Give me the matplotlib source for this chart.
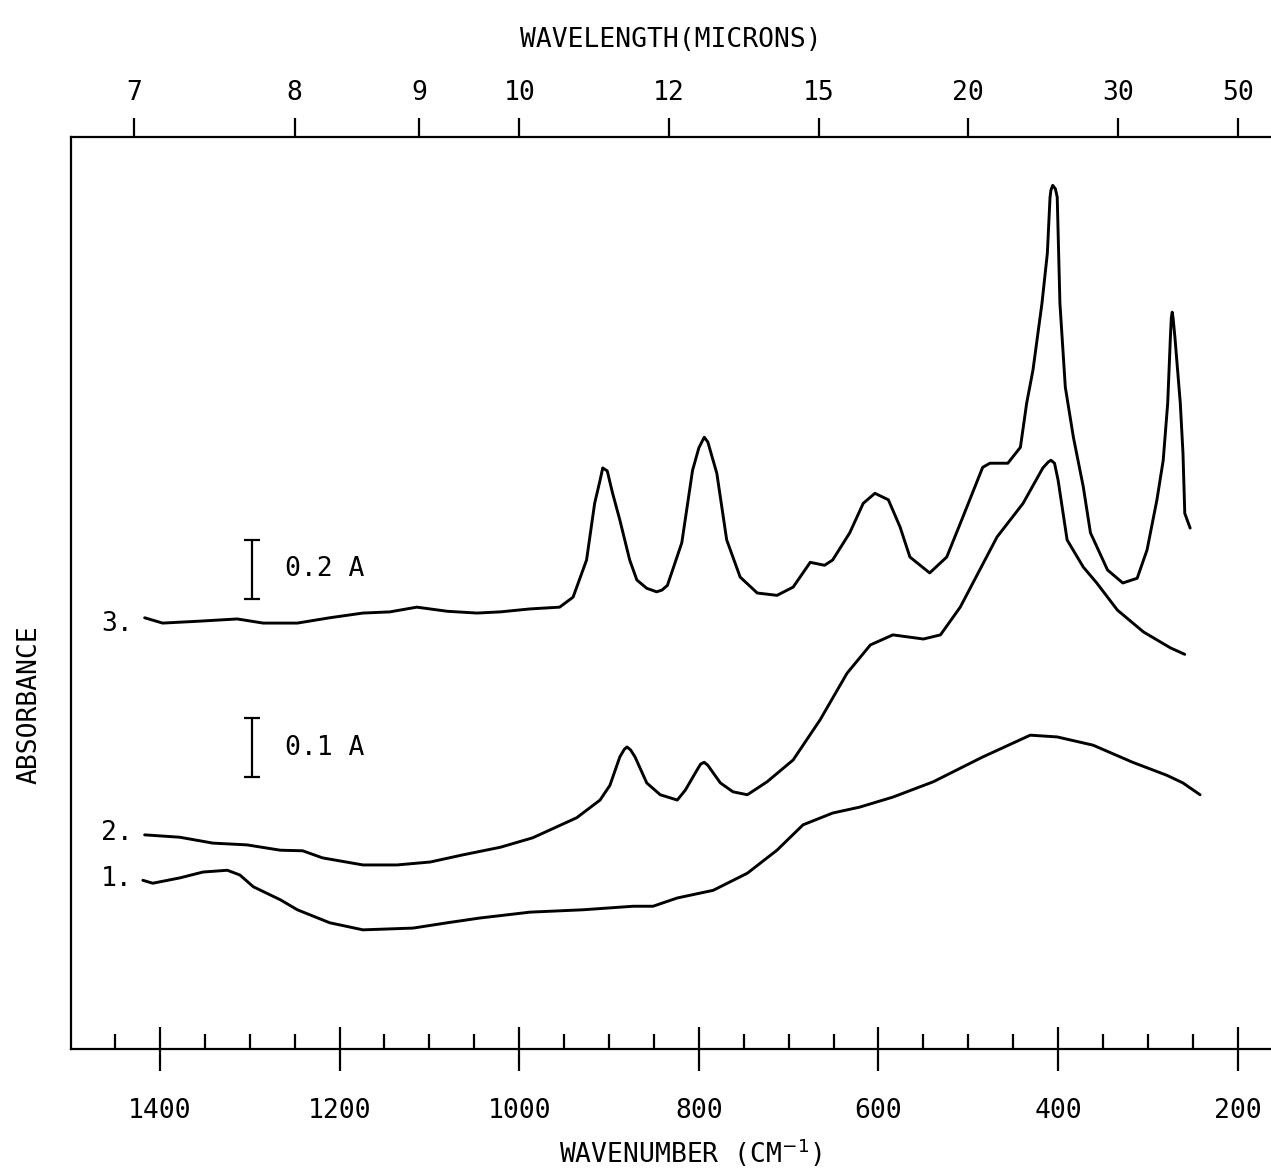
import matplotlib
matplotlib.use("Agg")
import matplotlib.pyplot as plt
from matplotlib.ticker import MultipleLocator, FixedLocator, FuncFormatter
import numpy as np

plt.rcParams['font.family'] = ['DejaVu Sans Mono', 'DejaVu Sans']

# ---------------- data (wavenumber cm^-1, relative absorbance) ----------------
wn3 = [1417, 1397, 1359, 1314, 1285, 1247, 1211, 1174, 1144, 1114, 1080, 1047,
       1021, 988, 955, 940, 925, 916, 910, 907, 902, 896, 888, 877, 869, 858, 847, 841, 835, 819,
       807, 800, 794, 790, 780, 769, 754, 735, 713, 695, 676, 660, 651, 632, 617, 604,
       589, 576, 565, 543, 524, 506, 484, 476, 456, 442, 435, 428, 418, 412,
       409, 408, 406, 403, 401, 398, 392, 383, 372, 364, 345, 328, 312, 301, 290, 283,
       278, 275, 274, 273, 272, 270, 264, 261, 259, 253]
ab3 = [0.731, 0.722, 0.725, 0.729, 0.722, 0.722, 0.731, 0.739, 0.741, 0.749, 0.742, 0.739,
       0.741, 0.746, 0.749, 0.766, 0.829, 0.925, 0.964, 0.985, 0.980, 0.942, 0.897, 0.829, 0.795, 0.781, 0.775, 0.778, 0.786, 0.858,
       0.981, 1.019, 1.037, 1.029, 0.976, 0.863, 0.800, 0.773, 0.769, 0.783, 0.825, 0.820, 0.829, 0.875, 0.925, 0.942,
       0.931, 0.885, 0.834, 0.807, 0.834, 0.902, 0.986, 0.993, 0.993, 1.020, 1.095, 1.151, 1.264, 1.349,
       1.444, 1.456, 1.464, 1.458, 1.444, 1.264, 1.122, 1.037, 0.953, 0.875, 0.812, 0.790, 0.798, 0.846, 0.931, 0.998,
       1.095, 1.207, 1.239, 1.249, 1.239, 1.207, 1.095, 1.010, 0.908, 0.883]

wn2 = [1417, 1378, 1341, 1303, 1266, 1241, 1219, 1174, 1136, 1099, 1063, 1021,
       985, 936, 910, 899, 888, 883, 880, 876, 871, 858, 843, 824, 815, 802, 798, 794, 790, 784,
       776, 762, 746, 724, 695, 665, 635, 609, 584, 550, 531, 509, 468, 439,
       417, 411, 408, 404, 400, 390, 372, 357, 334, 305, 275, 259]
ab2 = [0.363, 0.359, 0.349, 0.346, 0.337, 0.336, 0.324, 0.312, 0.312, 0.317, 0.329, 0.342,
       0.358, 0.392, 0.422, 0.447, 0.495, 0.508, 0.512, 0.507, 0.495, 0.451, 0.431, 0.422, 0.439, 0.473, 0.483, 0.486, 0.481, 0.468,
       0.451, 0.436, 0.431, 0.453, 0.490, 0.558, 0.637, 0.685, 0.702, 0.695, 0.702, 0.749, 0.868, 0.925,
       0.985, 0.995, 0.998, 0.993, 0.964, 0.863, 0.817, 0.790, 0.744, 0.707, 0.680, 0.669]

wn1 = [1419, 1408, 1378, 1352, 1325, 1311, 1296, 1266, 1247, 1211, 1174, 1155,
       1118, 1080, 1044, 988, 929, 873, 851, 824, 784, 746, 713, 684, 651,
       621, 584, 539, 484, 431, 401, 361, 317, 279, 261, 242]
ab1 = [0.286, 0.281, 0.290, 0.300, 0.303, 0.295, 0.275, 0.253, 0.236, 0.214, 0.202, 0.203,
       0.205, 0.214, 0.222, 0.232, 0.236, 0.242, 0.242, 0.256, 0.269, 0.298, 0.337, 0.380, 0.400,
       0.410, 0.427, 0.453, 0.495, 0.532, 0.529, 0.515, 0.486, 0.464, 0.451, 0.431]

curve_labels = ["1.", "2.", "3."]
curve_label_y = [0.288, 0.366, 0.720]

scale_bar_text = ["0.2 A", "0.1 A"]
scale_bar_lo = [0.763, 0.461]
scale_bar_hi = [0.863, 0.561]

wn_major = [1400, 1200, 1000, 800, 600, 400, 200]
micron_ticks = [7, 8, 9, 10, 12, 15, 20, 30, 50]

# ---------------- figure ----------------
W, H = 1271, 1173
fig = plt.figure(figsize=(W / 100, H / 100), dpi=100)
ax = fig.add_axes([71 / W, (H - 1049) / H, 1 - 71 / W, (1049 - 137) / H])

lw = 2.1
for wn, ab in [(wn1, ab1), (wn2, ab2), (wn3, ab3)]:
    ax.plot(wn, ab, color='black', lw=lw, solid_joinstyle='round', solid_capstyle='round')

ax.set_xlim(1499, 163)
ax.set_ylim(0, 1.546)

# curve labels
for lab, yv in zip(curve_labels, curve_label_y):
    ax.text(1430, yv, lab, ha='right', va='center', fontsize=19)

# scale bars
for txt, lo, hi in zip(scale_bar_text, scale_bar_lo, scale_bar_hi):
    ax.errorbar([1298], [(lo + hi) / 2], yerr=[[(hi - lo) / 2], [(hi - lo) / 2]],
                fmt='none', ecolor='black', elinewidth=1.6, capsize=6, capthick=1.6)
    ax.text(1261, (lo + hi) / 2, txt, ha='left', va='center', fontsize=19)

# spines
ax.spines['right'].set_visible(False)
for s in ['left', 'bottom', 'top']:
    ax.spines[s].set_linewidth(1.6)

# bottom axis ticks
ax.xaxis.set_major_locator(FixedLocator(wn_major))
ax.xaxis.set_minor_locator(MultipleLocator(50))
ax.xaxis.set_major_formatter(FuncFormatter(lambda v, p: f"{int(round(v))}"))
ax.tick_params(axis='x', which='major', direction='inout', length=31, width=1.6,
               pad=20, labelsize=19, top=False)
ax.tick_params(axis='x', which='minor', direction='in', length=11, width=1.6, top=False)
ax.set_yticks([])

ax.set_xlabel("WAVENUMBER (CM$^{-1}$)", fontsize=19)
ax.xaxis.set_label_coords((690 - 71) / 1200, (1049 - 1153) / 912)
ax.xaxis.label.set_va('center')

ax.set_ylabel("ABSORBANCE", fontsize=19)
ax.yaxis.set_label_coords((30 - 71) / 1200, (1049 - 705) / 912)
ax.yaxis.label.set_va('center')

# top axis: wavelength in microns
sec = ax.secondary_xaxis('top', functions=(lambda w: 1e4 / np.asarray(w, float),
                                            lambda l: 1e4 / np.asarray(l, float)))
sec.set_xticks(micron_ticks)
sec.xaxis.set_major_formatter(FuncFormatter(lambda v, p: f"{int(round(v))}"))
sec.xaxis.set_minor_locator(FixedLocator([]))
sec.tick_params(axis='x', which='major', direction='out', length=14, width=1.6,
                pad=8, labelsize=19)
sec.spines['top'].set_visible(False)
sec.set_xlabel("WAVELENGTH(MICRONS)", fontsize=19, labelpad=24)

fig.savefig("out.png", dpi=100, facecolor='white')
